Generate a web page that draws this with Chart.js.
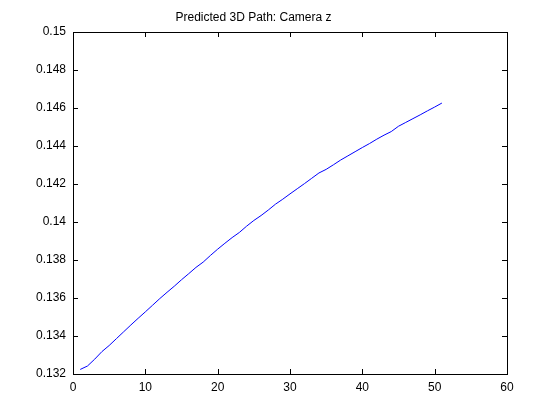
<!DOCTYPE html>
<html>
<head>
<meta charset="utf-8">
<script src="https://cdn.jsdelivr.net/npm/chart.js@4"></script>
<style>
  html, body { margin: 0; padding: 0; background: #fff; }
  #c { display: block; }
</style>
</head>
<body>
<canvas id="c" width="560" height="420"></canvas>
<script>
/* Predicted 3D Path: Camera z — MATLAB-style line plot */

const TITLE = 'Predicted 3D Path: Camera z';

const frames = [
   1,  2,  3,  4,  5,  6,  7,  8,  9, 10,
  11, 12, 13, 14, 15, 16, 17, 18, 19, 20,
  21, 22, 23, 24, 25, 26, 27, 28, 29, 30,
  31, 32, 33, 34, 35, 36, 37, 38, 39, 40,
  41, 42, 43, 44, 45, 46, 47, 48, 49, 50, 51
];

const cameraZ = [
  0.13224, 0.13242, 0.13278, 0.13318, 0.13350, 0.13386, 0.13422, 0.13458, 0.13493, 0.13527,
  0.13562, 0.13597, 0.13630, 0.13662, 0.13696, 0.13728, 0.13761, 0.13789, 0.13824, 0.13857,
  0.13888, 0.13918, 0.13945, 0.13978, 0.14008, 0.14034, 0.14063, 0.14094, 0.14120, 0.14148,
  0.14175, 0.14202, 0.14230, 0.14258, 0.14277, 0.14301, 0.14326, 0.14348, 0.14370, 0.14392,
  0.14413, 0.14436, 0.14457, 0.14476, 0.14504, 0.14524, 0.14544, 0.14564, 0.14585, 0.14605,
  0.14626
];

const xTicks = [0, 10, 20, 30, 40, 50, 60];
const yTicks = [0.132, 0.134, 0.136, 0.138, 0.14, 0.142, 0.144, 0.146, 0.148, 0.15];

const FONT = { family: '"Liberation Sans", Arial, Helvetica, sans-serif', size: 12 };

/* ── box + inward tick marks on all four sides ── */
const matlabAxes = {
  id: 'matlabAxes',
  afterDraw(chart) {
    const { ctx, chartArea: a, scales } = chart;
    const len = 5;
    ctx.save();
    ctx.strokeStyle = '#000';
    ctx.lineWidth = 1;
    ctx.beginPath();
    xTicks.forEach(v => {
      const px = Math.round(scales.x.getPixelForValue(v)) + 0.5;
      ctx.moveTo(px, a.bottom); ctx.lineTo(px, a.bottom - len);
      ctx.moveTo(px, a.top);    ctx.lineTo(px, a.top + len);
    });
    yTicks.forEach(v => {
      const py = Math.round(scales.y.getPixelForValue(v)) + 0.5;
      ctx.moveTo(a.left, py);  ctx.lineTo(a.left + len, py);
      ctx.moveTo(a.right, py); ctx.lineTo(a.right - len, py);
    });
    ctx.stroke();
    ctx.strokeRect(Math.round(a.left) + 0.5, Math.round(a.top) + 0.5,
                   Math.round(a.right - a.left), Math.round(a.bottom - a.top));
    ctx.restore();
  }
};

new Chart(document.getElementById('c'), {
  type: 'line',
  data: {
    datasets: [{
      data: frames.map((f, i) => ({ x: f, y: cameraZ[i] })),
      borderColor: '#0000ff',
      borderWidth: 1,
      pointRadius: 0,
      tension: 0,
      fill: false
    }]
  },
  options: {
    responsive: false,
    animation: false,
    layout: { padding: { left: 0, right: 53, top: 0, bottom: 0 } },
    plugins: {
      legend: { display: false },
      tooltip: { enabled: false },
      title: {
        display: true,
        text: TITLE,
        color: '#000',
        font: { ...FONT, weight: 'normal', lineHeight: 1.2 },
        padding: { top: 10, bottom: 7.6 }
      }
    },
    scales: {
      x: {
        type: 'linear',
        min: 0, max: 60,
        afterBuildTicks: s => { s.ticks = xTicks.map(v => ({ value: v })); },
        afterFit: s => { s.height = 46; },
        grid: { display: false, drawTicks: false },
        border: { display: false },
        ticks: { color: '#000', font: FONT, padding: 6, maxRotation: 0 }
      },
      y: {
        min: 0.132, max: 0.15,
        afterBuildTicks: s => { s.ticks = yTicks.map(v => ({ value: v })); },
        afterFit: s => { s.width = 73; },
        grid: { display: false, drawTicks: false },
        border: { display: false },
        ticks: { color: '#000', font: FONT, padding: 7, callback: v => String(+v.toFixed(3)) }
      }
    }
  },
  plugins: [matlabAxes]
});
</script>
</body>
</html>
